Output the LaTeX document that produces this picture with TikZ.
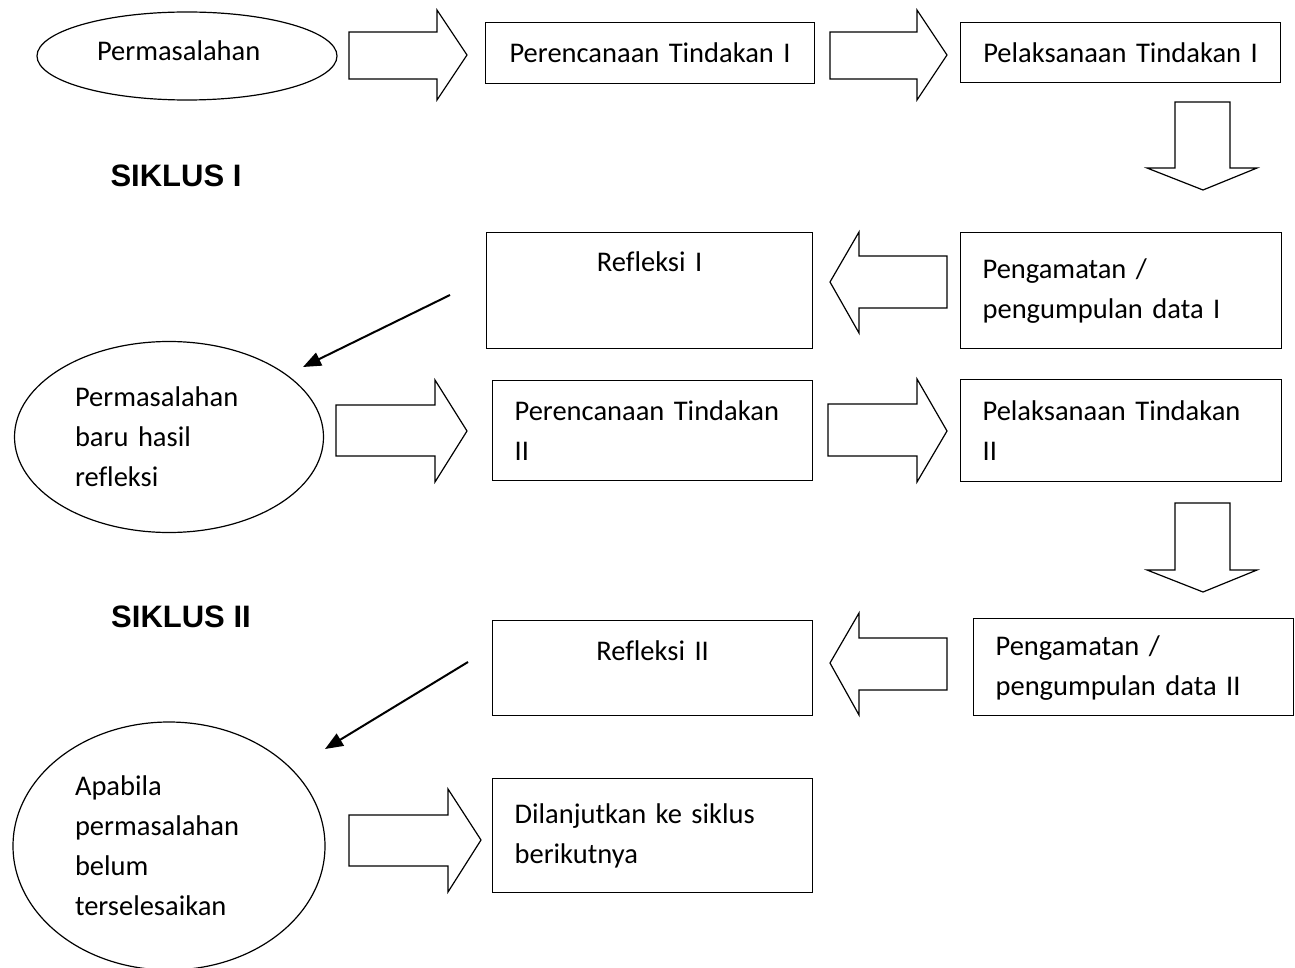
\documentclass[tikz,border=0pt]{standalone}
\usepackage{fontspec}
\setmainfont{Carlito}[Ligatures=NoCommon]
\newfontfamily\siklusfont{Liberation Sans}
\usepackage{tikz}
\usetikzlibrary{arrows.meta,shapes.geometric}

\begin{document}
\begin{tikzpicture}[x=1pt, y=-1pt,
  box/.style={draw, line width=1.2pt, anchor=north west, inner xsep=22pt, inner ysep=0pt, align=left, font=\fontsize{28.5}{40}\selectfont},
  oval/.style={draw, ellipse, line width=1.2pt, inner sep=0pt, align=left, font=\fontsize{28.5}{40}\selectfont},
  blk/.style={draw, line width=1.2pt, line join=miter},
  arrow/.style={-{Triangle[length=18pt,width=14pt]}, line width=2pt},
  siklus/.style={font=\siklusfont\bfseries\fontsize{31}{36}\selectfont}
]
\useasboundingbox (0,0) rectangle (1295,968);

\node[oval, text width=180pt, text depth=10pt, minimum width=300pt, minimum height=88pt] (perm1) at (187,56) {Permasalahan};
\node[box, align=center, text width=285pt, minimum height=61pt] (rencana1) at (485,22) {Perencanaan Tindakan I};
\node[box, align=center, text width=276pt, minimum height=60pt] (laksana1) at (960,22) {Pelaksanaan Tindakan I};
\node[siklus] (siklus1) at (176,176) {SIKLUS I};
\node[box, align=center, text width=282pt, text height=39pt, text depth=77pt] (refleksi1) at (486,232) {Refleksi I};
\node[box, text width=277pt, minimum height=116pt] (amat1) at (960,232) {Pengamatan /\\pengumpulan data I};
\node[oval, text width=188pt, minimum width=309pt, minimum height=191pt] (perm2) at (169,437) {Permasalahan\\baru hasil\\refleksi};
\node[box, text width=276pt, minimum height=100pt] (rencana2) at (492,380) {Perencanaan Tindakan\\II};
\node[box, text width=277pt, minimum height=102pt] (laksana2) at (960,379) {Pelaksanaan Tindakan\\II};
\node[siklus] (siklus2) at (181,617) {SIKLUS II};
\node[box, align=center, text width=276pt, text height=40pt, text depth=55pt] (refleksi2) at (492,620) {Refleksi II};
\node[box, text width=276pt, text height=37pt, text depth=60pt] (amat2) at (973,618) {Pengamatan /\\pengumpulan data II};
\node[oval, text width=188pt, minimum width=312pt, minimum height=248pt] (perm3) at (169,846) {Apabila\\permasalahan\\belum\\terselesaikan};
\node[box, text width=276pt, minimum height=114pt] (lanjut) at (492,778) {Dilanjutkan ke siklus\\berikutnya};

\draw[blk] (349,32) -- (437,32) -- (437,10) -- (467,55) -- (437,100) -- (437,79) -- (349,79) -- cycle;
\draw[blk] (830,32) -- (917,32) -- (917,10) -- (947,55) -- (917,100) -- (917,79) -- (830,79) -- cycle;
\draw[blk] (1175,102) -- (1230,102) -- (1230,168) -- (1257,168) -- (1203,190) -- (1147,168) -- (1175,168) -- cycle;
\draw[blk] (947,256) -- (859,256) -- (859,232) -- (830,282) -- (859,333) -- (859,308) -- (947,308) -- cycle;
\draw[blk] (336,405) -- (435,405) -- (435,380) -- (467,431) -- (435,482) -- (435,456) -- (336,456) -- cycle;
\draw[blk] (828,404) -- (917,404) -- (917,379) -- (947,431) -- (917,482) -- (917,456) -- (828,456) -- cycle;
\draw[blk] (1175,503) -- (1230,503) -- (1230,570) -- (1257,570) -- (1203,592) -- (1147,570) -- (1175,570) -- cycle;
\draw[blk] (947,638) -- (859,638) -- (859,613) -- (830,663) -- (859,715) -- (859,690) -- (947,690) -- cycle;
\draw[blk] (349,815) -- (448,815) -- (448,789) -- (481,840) -- (448,892) -- (448,866) -- (349,866) -- cycle;

\coordinate (ref1out) at (450,295);
\coordinate (perm2in) at (303,367);
\coordinate (ref2out) at (468,662);
\coordinate (perm3in) at (325,749);
\draw[arrow] (ref1out) -- (perm2in);
\draw[arrow] (ref2out) -- (perm3in);
\end{tikzpicture}
\end{document}
